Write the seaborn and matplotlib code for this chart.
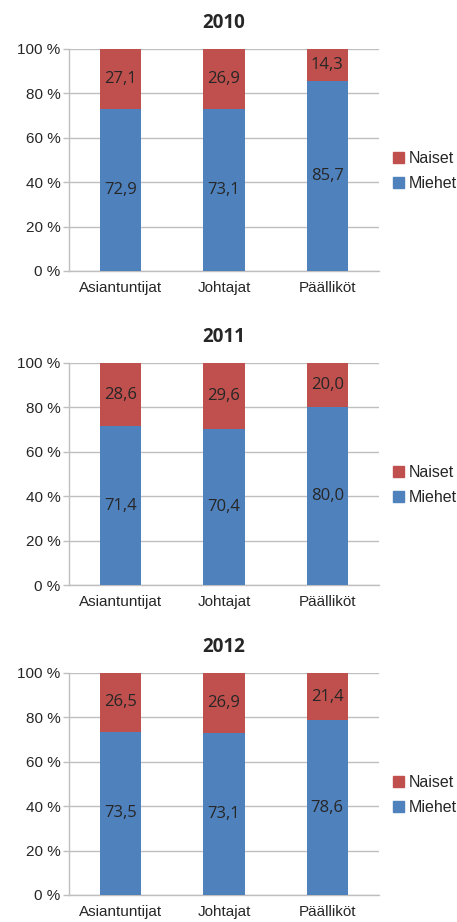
import matplotlib
matplotlib.use("Agg")
import matplotlib.pyplot as plt
from matplotlib.patches import Patch
import seaborn as sns
import pandas as pd
import numpy as np

vuodet = ["2010", "2011", "2012"]
ryhmat = ["Asiantuntijat", "Johtajat", "Päälliköt"]
miehet = {"2010": [72.9, 73.1, 85.7],
          "2011": [71.4, 70.4, 80.0],
          "2012": [73.5, 73.1, 78.6]}
naiset = {"2010": [27.1, 26.9, 14.3],
          "2011": [28.6, 29.6, 20.0],
          "2012": [26.5, 26.9, 21.4]}

sininen = "#4F81BD"
punainen = "#C0504D"
harmaa = "#BFBFBF"

sns.set_style("white")
plt.rcParams['font.family'] = ['Liberation Sans Narrow', 'Liberation Sans', 'DejaVu Sans']

fig = plt.figure(figsize=(4.57, 9.22), dpi=100)
paikat = [0.7061, 0.3655, 0.0293]

for vuosi, alaraja in zip(vuodet, paikat):
    ax = fig.add_axes([0.151, alaraja, 0.678, 0.241])
    df = pd.DataFrame({"ryhma": ryhmat, "miehet": miehet[vuosi], "naiset": naiset[vuosi]})
    df["yht"] = df["miehet"] + df["naiset"]
    # punainen koko pylväs ja sininen päälle
    sns.barplot(data=df, x="ryhma", y="yht", color=punainen, saturation=1,
                width=0.4, ax=ax, zorder=3, linewidth=0)
    sns.barplot(data=df, x="ryhma", y="miehet", color=sininen, saturation=1,
                width=0.4, ax=ax, zorder=4, linewidth=0)
    for i, r in df.iterrows():
        ax.text(i, r["miehet"] / 2, f"{r['miehet']:.1f}".replace(".", ","),
                ha="center", va="center", fontsize=12, family="Open Sans", zorder=5)
        ax.text(i, r["miehet"] + r["naiset"] / 2, f"{r['naiset']:.1f}".replace(".", ","),
                ha="center", va="center", fontsize=12, family="Open Sans", zorder=5)
    ax.set_xlim(-0.5, 2.5)
    ax.set_ylim(0, 100)
    ax.set_yticks(np.arange(0, 101, 20))
    ax.set_yticklabels([f"{v} %" for v in range(0, 101, 20)], fontsize=11)
    ax.yaxis.grid(True, color=harmaa, lw=1, zorder=0)
    ax.set_axisbelow(True)
    ax.set_xlabel("")
    ax.set_ylabel("")
    ax.set_xticks([0, 1, 2])
    ax.set_xticklabels(ryhmat, fontsize=11)
    ax.tick_params(axis="x", length=0, pad=7)
    ax.set_xticks([-0.5, 0.5, 1.5, 2.5], minor=True)
    ax.tick_params(axis="x", which="minor", length=5, color=harmaa, width=1)
    ax.tick_params(axis="y", length=4, color=harmaa, width=1, pad=2, left=True)
    for s in ["top", "right"]:
        ax.spines[s].set_visible(False)
    for s in ["left", "bottom"]:
        ax.spines[s].set_color(harmaa)
        ax.spines[s].set_linewidth(1)
    ax.set_title(vuosi, fontsize=13.5, fontweight="bold", family="Open Sans", pad=15)
    kahvat = [Patch(color=punainen, label="Naiset"), Patch(color=sininen, label="Miehet")]
    ax.legend(handles=kahvat, loc="center left", bbox_to_anchor=(1.0, 0.45), frameon=False,
              fontsize=11.5, handlelength=0.7, handleheight=0.7, handletextpad=0.3,
              labelspacing=0.6, borderaxespad=0.5)

fig.savefig("out.png", dpi=100)
